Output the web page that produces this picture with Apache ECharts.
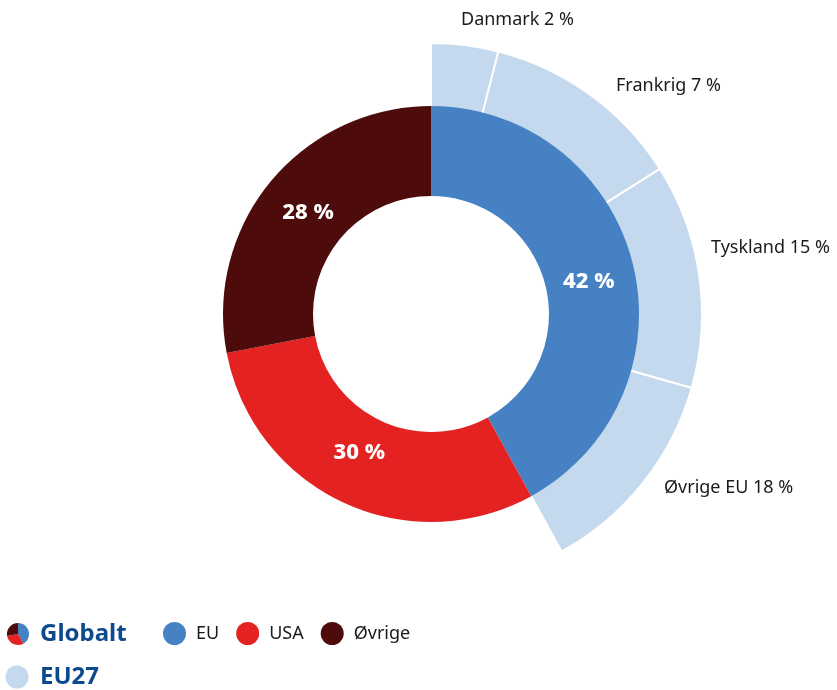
<!DOCTYPE html>
<html><head><meta charset="utf-8">
<script src="https://cdn.jsdelivr.net/npm/echarts@6/dist/echarts.min.js"></script>
<style>html,body{margin:0;padding:0;background:#fff}#c{width:837px;height:690px}</style>
</head><body><div id="c"></div>
<script>
const globalNames = ['EU', 'USA', 'Øvrige'];
const globalValues = [42, 30, 28];
const euNames = ['Danmark', 'Frankrig', 'Tyskland', 'Øvrige EU'];
const euValues = [2, 7, 15, 18];          // values shown in labels (%)
const euArcShares = [4, 12, 13.4, 12.6];  // arc sizes as drawn in the picture (share of full circle)
const restValue = 58;

const colors = { EU: '#4682c3', USA: '#e32221', 'Øvrige': '#4d0c0b' };
const lightBlue = '#c5d9ee';
const titleBlue = '#0c4a8d';
const outerLabelPos = [[461, 20], [616, 86], [711, 248], [664, 488]];
const innerLabelShift = [[-3, 9], [-1, -11], [5, 5]];

const chart = echarts.init(document.getElementById('c'), null, { renderer: 'canvas' });
const innerData = globalNames.map((n, i) => ({ name: n, value: globalValues[i], itemStyle: { color: colors[n] } }));
const outerData = euNames.map((n, i) => ({ name: n, value: euArcShares[i] }))
  .concat([{ name: '', value: restValue, itemStyle: { color: 'rgba(0,0,0,0)', borderWidth: 0 }, label: { show: false }, emphasis: { disabled: true } }]);

chart.setOption({
  animation: false,
  legend: {
    data: globalNames, icon: 'circle', itemWidth: 23, itemHeight: 23, padding: 0,
    left: 163, top: 622, itemGap: 17, selectedMode: false,
    textStyle: { fontFamily: 'Noto Sans', fontSize: 18, color: '#1a1a1a', padding: [0, 0, 0, 5] }
  },
  series: [
    {
      type: 'pie', center: [431, 314], radius: [206, 271], startAngle: 90, z: 1,
      silent: true,
      itemStyle: { color: lightBlue, borderColor: '#fff', borderWidth: 2 },
      label: {
        show: true, formatter: p => p.name + ' ' + euValues[p.dataIndex] + ' %',
        fontFamily: 'Noto Sans', fontSize: 18, color: '#1a1a1a', overflow: 'none', width: 300
      },
      labelLine: { show: false },
      labelLayout: p => {
        const pos = outerLabelPos[p.dataIndex];
        if (!pos) return {};
        return { x: pos[0], y: pos[1], align: 'left', verticalAlign: 'middle' };
      },
      data: outerData
    },
    {
      type: 'pie', center: [431, 314], radius: [118, 208], startAngle: 90, z: 2,
      silent: true,
      label: {
        show: true, position: 'inside', formatter: p => p.value + ' %',
        fontFamily: 'Noto Sans', fontWeight: 800, fontSize: 22, color: '#fff'
      },
      labelLine: { show: false },
      labelLayout: p => {
        const s = innerLabelShift[p.dataIndex];
        return s ? { dx: s[0], dy: s[1] } : {};
      },
      data: innerData
    },
    {
      type: 'pie', center: [18, 634], radius: [0, 11], startAngle: 90, z: 3,
      silent: true, label: { show: false }, labelLine: { show: false },
      data: innerData
    }
  ],
  graphic: [
    { type: 'text', left: 40, top: 622, style: { text: 'Globalt', fontFamily: 'Noto Sans', fontWeight: 'bold', fontSize: 24, fill: titleBlue } },
    { type: 'circle', shape: { cx: 17, cy: 677, r: 11.5 }, style: { fill: lightBlue } },
    { type: 'text', left: 40, top: 665, style: { text: 'EU27', fontFamily: 'Noto Sans', fontWeight: 'bold', fontSize: 24, fill: titleBlue } }
  ]
});
</script></body></html>
